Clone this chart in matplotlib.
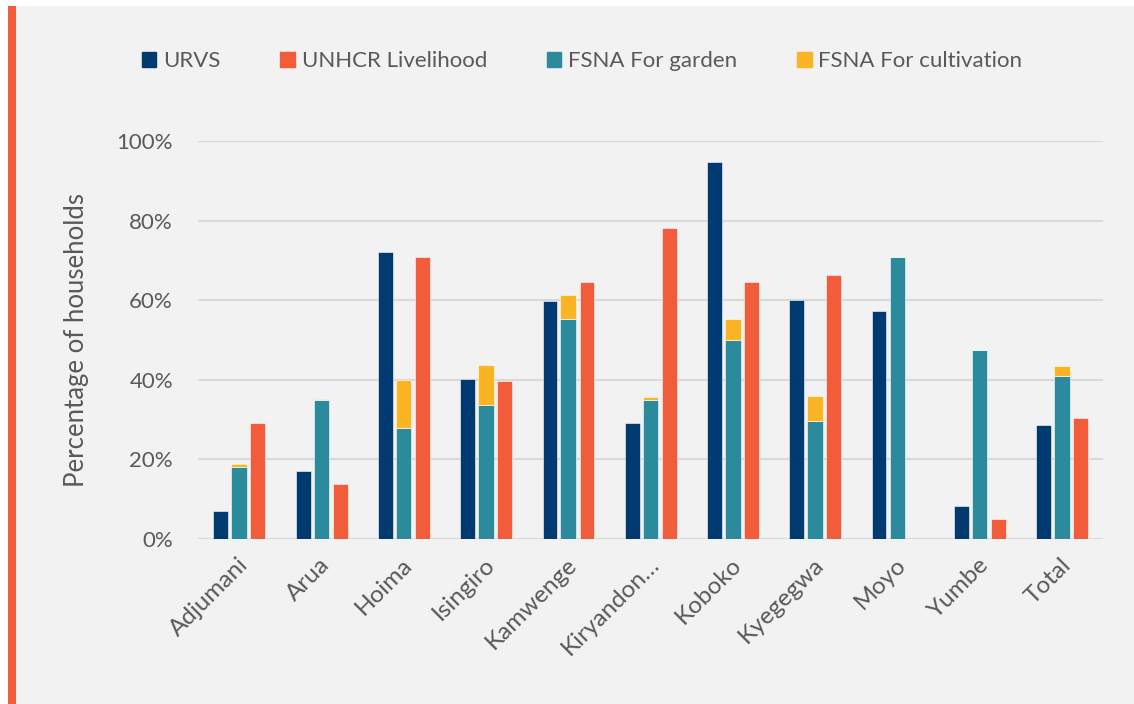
import numpy as np
import matplotlib
matplotlib.use("Agg")
import matplotlib.pyplot as plt
from matplotlib.patches import Rectangle, Patch
from matplotlib.ticker import PercentFormatter
import matplotlib.transforms as mtransforms

plt.rcParams['font.family'] = ['Lato', 'DejaVu Sans']

# data (percent of households)
districts = ["Adjumani", "Arua", "Hoima", "Isingiro", "Kamwenge", "Kiryandon\u2026",
             "Koboko", "Kyegegwa", "Moyo", "Yumbe", "Total"]
urvs = [7.0, 17.1, 72.2, 40.1, 59.7, 29.2, 94.8, 60.0, 57.2, 8.3, 28.7]
unhcr = [29.1, 13.8, 70.9, 39.7, 64.5, 78.2, 64.5, 66.3, np.nan, 5.0, 30.5]
fsna_garden = [18.1, 34.8, 28.0, 33.6, 55.3, 35.0, 50.0, 29.6, 70.8, 47.4, 40.9]
fsna_cultivation = [0.7, 0.4, 12.0, 10.1, 6.1, 0.6, 5.3, 6.3, 0.0, 0.0, 2.5]

NAVY = "#003A70"
ORANGE = "#F15D3B"
TEAL = "#2B8A9C"
YELLOW = "#FBB423"
BG = "#F2F2F2"
TXT = "#595959"

fig = plt.figure(figsize=(11.34, 7.04), dpi=100)
fig.patch.set_facecolor("white")
# grey panel and orange side stripe
fig.patches.append(Rectangle((8 / 1134, 0), 1 - 8 / 1134, 1 - 6 / 704,
                             transform=fig.transFigure, facecolor=BG, edgecolor="none", zorder=-2))
fig.patches.append(Rectangle((8 / 1134, 0), 8 / 1134, 1 - 6 / 704,
                             transform=fig.transFigure, facecolor=ORANGE, edgecolor="none", zorder=-1))

ax = fig.add_axes([198 / 1134, 165 / 704, 905 / 1134, 398 / 704])
ax.set_facecolor(BG)

x = np.arange(len(districts))
w = 0.18
ekw = dict(edgecolor="white", linewidth=0.4, zorder=3)
ax.bar(x - 0.222, urvs, w, color=NAVY, **ekw)
ax.bar(x, fsna_garden, w + 0.01, color=TEAL, **ekw)
ax.bar(x, fsna_cultivation, w + 0.01, bottom=fsna_garden, color=YELLOW, **ekw)
ax.bar(x + 0.228, unhcr, w, color=ORANGE, **ekw)

ax.set_xlim(-0.5, 10.5)
ax.set_ylim(0, 100)
ax.set_yticks(np.arange(0, 101, 20))
ax.yaxis.set_major_formatter(PercentFormatter(decimals=0))
ax.grid(axis="y", color="#D9D9D9", linewidth=1.5, zorder=0)
ax.set_axisbelow(True)
for s in ax.spines.values():
    s.set_visible(False)
ax.tick_params(axis="both", length=0, labelsize=16, colors=TXT)
ax.tick_params(axis="y", pad=18)

ax.set_xticks(x)
ax.set_xticklabels(districts, rotation=45, ha="right", va="top", rotation_mode="anchor",
                   fontsize=17.5)
offset = mtransforms.ScaledTranslation(-2 / 100, -10 / 100, fig.dpi_scale_trans)
for lbl in ax.get_xticklabels():
    lbl.set_transform(lbl.get_transform() + offset)

ax.set_ylabel("Percentage of households", fontsize=18.5, color=TXT, labelpad=20)

handles = [Patch(color=NAVY, label="URVS"),
           Patch(color=ORANGE, label="UNHCR Livelihood"),
           Patch(color=TEAL, label="FSNA For garden"),
           Patch(color=YELLOW, label="FSNA For cultivation")]
leg = fig.legend(handles=handles, loc="center left", bbox_to_anchor=(142 / 1134, 1 - 61 / 704),
                 ncol=4, frameon=False, fontsize=16, handlelength=0.65, handleheight=0.65,
                 handletextpad=0.3, columnspacing=2.7, borderpad=0, borderaxespad=0)
for t in leg.get_texts():
    t.set_color(TXT)

fig.savefig("out.png", dpi=100, facecolor=fig.get_facecolor())
